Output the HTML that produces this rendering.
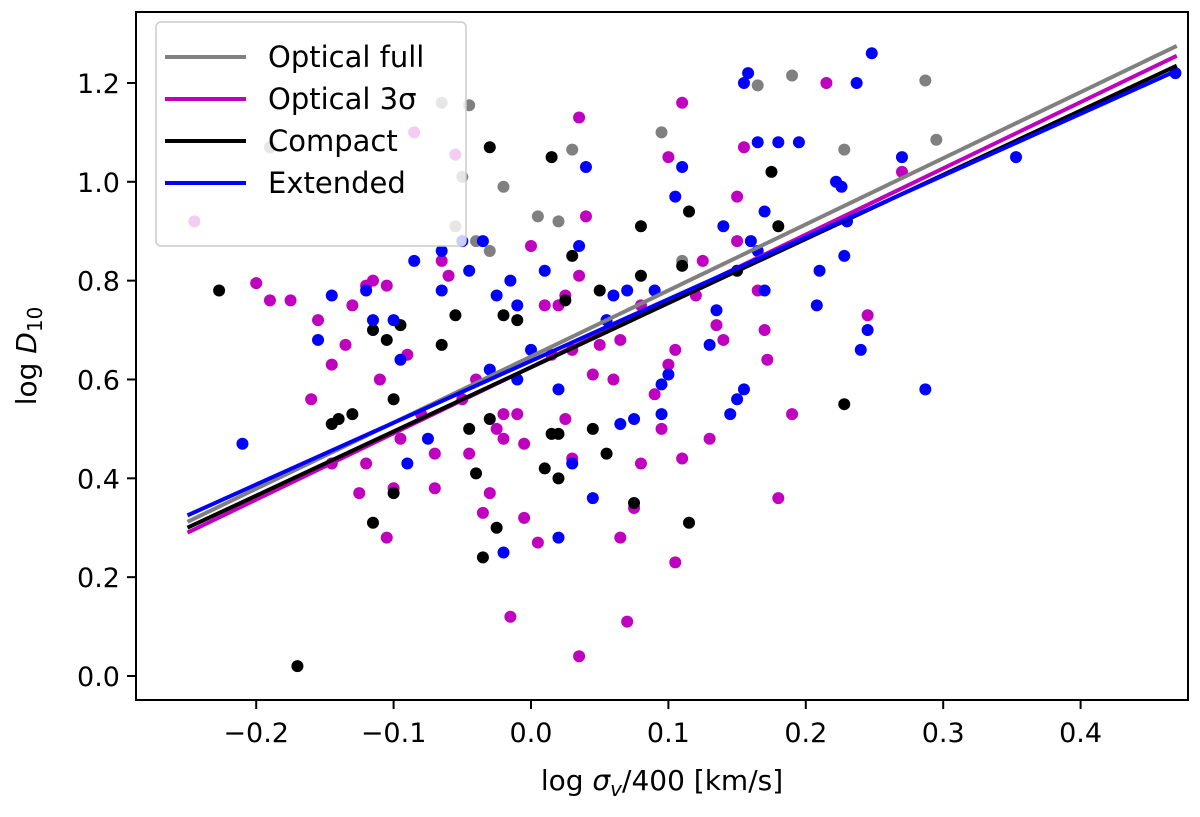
<!DOCTYPE html>
<html><head><meta charset="utf-8"><style>
html,body{margin:0;padding:0;background:#fff;}
svg text{font-family:"DejaVu Sans","Liberation Sans",sans-serif;fill:#000;}
</style></head><body>
<svg id="chart" width="1200" height="812" xmlns="http://www.w3.org/2000/svg">
<g id="points"></g>
<g id="lines"></g>
<g id="axes"></g>
<g id="legend"></g>
</svg>
<script>
const xTicks=[-0.2,-0.1,0.0,0.1,0.2,0.3,0.4];
const yTicks=[0.0,0.2,0.4,0.6,0.8,1.0,1.2];
const seriesNames=["Optical full","Optical 3σ","Compact","Extended"];
const seriesColors=["#808080","#bf00bf","#000000","#0000ff"];
const fitX=[-0.25,0.47];
const fitGrey=[0.312,1.275];
const fitMagenta=[0.29,1.255];
const fitBlack=[0.30,1.235];
const fitBlue=[0.325,1.225];
const greyPts=[[-0.19,1.07],[-0.065,1.16],[-0.045,1.155],[-0.05,1.01],[-0.04,0.88],[-0.03,0.86],[-0.02,0.99],[0.005,0.93],[0.02,0.92],[0.03,1.065],[0.095,1.10],[0.165,1.195],[0.19,1.215],[0.228,1.065],[0.287,1.205],[0.295,1.085],[-0.055,0.91],[0.11,0.84]];
const magentaPts=[[-0.245,0.92],[-0.2,0.795],[-0.19,0.76],[-0.175,0.76],[-0.16,0.56],[-0.155,0.72],[-0.145,0.63],[-0.135,0.67],[-0.13,0.75],[-0.12,0.79],[-0.115,0.80],[-0.11,0.60],[-0.105,0.79],[-0.12,0.43],[-0.125,0.37],[-0.105,0.28],[-0.1,0.38],[-0.095,0.48],[-0.09,0.65],[-0.085,1.10],[-0.08,0.53],[-0.07,0.45],[-0.07,0.38],[-0.065,0.84],[-0.06,0.81],[-0.055,1.055],[-0.05,0.56],[-0.045,0.45],[-0.04,0.60],[-0.035,0.33],[-0.03,0.37],[-0.025,0.50],[-0.02,0.53],[-0.02,0.48],[-0.015,0.12],[-0.01,0.53],[-0.005,0.47],[-0.005,0.32],[0.0,0.87],[0.005,0.27],[0.01,0.75],[0.015,0.65],[0.02,0.75],[0.025,0.77],[0.025,0.52],[0.03,0.66],[0.03,0.44],[0.035,0.81],[0.035,1.13],[0.035,0.04],[0.04,0.93],[0.045,0.61],[0.05,0.67],[0.06,0.60],[0.065,0.28],[0.065,0.68],[0.07,0.11],[0.075,0.34],[0.08,0.43],[0.08,0.75],[0.09,0.57],[0.095,0.50],[0.1,1.05],[0.1,0.63],[0.105,0.66],[0.105,0.23],[0.11,1.16],[0.11,0.44],[0.12,0.77],[0.125,0.84],[0.13,0.48],[0.135,0.71],[0.14,0.68],[0.15,0.97],[0.155,1.07],[0.15,0.88],[0.165,0.78],[0.17,0.70],[0.172,0.64],[0.18,0.36],[0.19,0.53],[0.215,1.20],[0.245,0.73],[0.27,1.02],[-0.145,0.43]];
const blackPts=[[-0.227,0.78],[-0.17,0.02],[-0.145,0.51],[-0.13,0.53],[-0.115,0.70],[-0.115,0.31],[-0.105,0.68],[-0.1,0.56],[-0.1,0.37],[-0.095,0.71],[-0.065,0.67],[-0.055,0.73],[-0.045,0.50],[-0.04,0.41],[-0.035,0.24],[-0.03,0.52],[-0.025,0.30],[-0.03,1.07],[-0.02,0.73],[-0.01,0.72],[0.01,0.42],[0.015,0.49],[0.015,1.05],[0.02,0.40],[0.02,0.49],[0.025,0.76],[0.03,0.85],[0.045,0.50],[0.05,0.78],[0.055,0.45],[0.075,0.35],[0.08,0.91],[0.08,0.81],[0.11,0.83],[0.115,0.94],[0.115,0.31],[0.15,0.82],[0.175,1.02],[0.18,0.91],[0.228,0.55],[-0.14,0.52]];
const bluePts=[[-0.21,0.47],[-0.155,0.68],[-0.145,0.77],[-0.12,0.78],[-0.115,0.72],[-0.1,0.72],[-0.095,0.64],[-0.09,0.43],[-0.085,0.84],[-0.075,0.48],[-0.065,0.86],[-0.05,0.88],[-0.045,0.82],[-0.035,0.88],[-0.03,0.62],[-0.025,0.77],[-0.02,0.25],[-0.015,0.80],[-0.01,0.75],[-0.01,0.60],[0.0,0.66],[0.01,0.82],[0.02,0.58],[0.03,0.43],[0.035,0.87],[0.04,1.03],[0.045,0.36],[0.055,0.72],[0.06,0.77],[0.065,0.51],[0.07,0.78],[0.075,0.52],[0.09,0.78],[0.095,0.53],[0.095,0.59],[0.1,0.61],[0.105,0.97],[0.11,1.03],[0.13,0.67],[0.135,0.74],[0.14,0.91],[0.145,0.53],[0.15,0.56],[0.155,0.58],[0.155,1.20],[0.158,1.22],[0.16,0.88],[0.165,1.08],[0.165,0.86],[0.17,0.94],[0.17,0.78],[0.18,1.08],[0.195,1.08],[0.208,0.75],[0.21,0.82],[0.222,1.00],[0.226,0.99],[0.23,0.92],[0.228,0.85],[0.237,1.20],[0.24,0.66],[0.245,0.70],[0.248,1.26],[0.27,1.05],[0.287,0.58],[0.353,1.05],[0.469,1.22],[-0.065,0.78],[0.02,0.28]];

const NS="http://www.w3.org/2000/svg";
const L=136,R=1188,T=12,B=700;
function sx(v){return 531+v*1374;}
function sy(v){return 676-v*494.2;}
function mk(tag,attrs,parent){const e=document.createElementNS(NS,tag);for(const k in attrs)e.setAttribute(k,attrs[k]);parent.appendChild(e);return e;}

const pg=document.getElementById('points');
const allPts=[greyPts,magentaPts,blackPts,bluePts];
const ptNames=['grey-point','magenta-point','black-point','blue-point'];
allPts.forEach((arr,si)=>{arr.forEach(p=>{
  const c=mk('circle',{cx:sx(p[0]),cy:sy(p[1]),r:6,fill:seriesColors[si]},pg);
  
  
});});

const lg=document.getElementById('lines');
const fits=[fitGrey,fitMagenta,fitBlack,fitBlue];
const fitNames=['fit-line-optical-full','fit-line-optical-3sigma','fit-line-compact','fit-line-extended'];
fits.forEach((f,i)=>{
  const l=mk('line',{x1:sx(fitX[0]),y1:sy(f[0]),x2:sx(fitX[1]),y2:sy(f[1]),stroke:seriesColors[i],'stroke-width':4},lg);
  
  
});

const ax=document.getElementById('axes');
const frame=mk('rect',{x:L,y:T,width:R-L,height:B-T,fill:'none',stroke:'#000','stroke-width':2},ax);


xTicks.forEach(v=>{
  const x=sx(v);
  mk('line',{x1:x,y1:B,x2:x,y2:B+9,stroke:'#000','stroke-width':2},ax);
  const t=mk('text',{x:x,y:B+42,'text-anchor':'middle','font-size':27},ax);
  t.textContent=(v<0?'\u2212':'')+Math.abs(v).toFixed(1);
  
  
});
yTicks.forEach(v=>{
  const y=sy(v);
  mk('line',{x1:L-9,y1:y,x2:L,y2:y,stroke:'#000','stroke-width':2},ax);
  const t=mk('text',{x:L-16,y:y+10,'text-anchor':'end','font-size':27},ax);
  t.textContent=v.toFixed(1);
  
  
});
const xl=mk('text',{x:(L+R)/2,y:790,'text-anchor':'middle','font-size':28},ax);
xl.innerHTML='log <tspan font-style="italic">σ</tspan><tspan font-style="italic" font-size="20" dy="6">v</tspan><tspan dy="-6">/400 [km/s]</tspan>';


const yl=mk('text',{x:0,y:0,'text-anchor':'middle','font-size':28,transform:'translate(36,356) rotate(-90)'},ax);
yl.innerHTML='log <tspan font-style="italic">D</tspan><tspan font-size="20" dy="6">10</tspan>';



const lgd=document.getElementById('legend');
const box=mk('rect',{x:156,y:22,width:310,height:224,rx:5,fill:'#fff','fill-opacity':0.8,stroke:'#ccc','stroke-width':1.5},lgd);


seriesNames.forEach((n,i)=>{
  const y=57+i*42;
  const ln=mk('line',{x1:165,y1:y,x2:246,y2:y,stroke:seriesColors[i],'stroke-width':4},lgd);
  
  
  const t=mk('text',{x:268,y:y+10,'font-size':29},lgd);
  t.textContent=n;
  
  
});
</script>
</body></html>
